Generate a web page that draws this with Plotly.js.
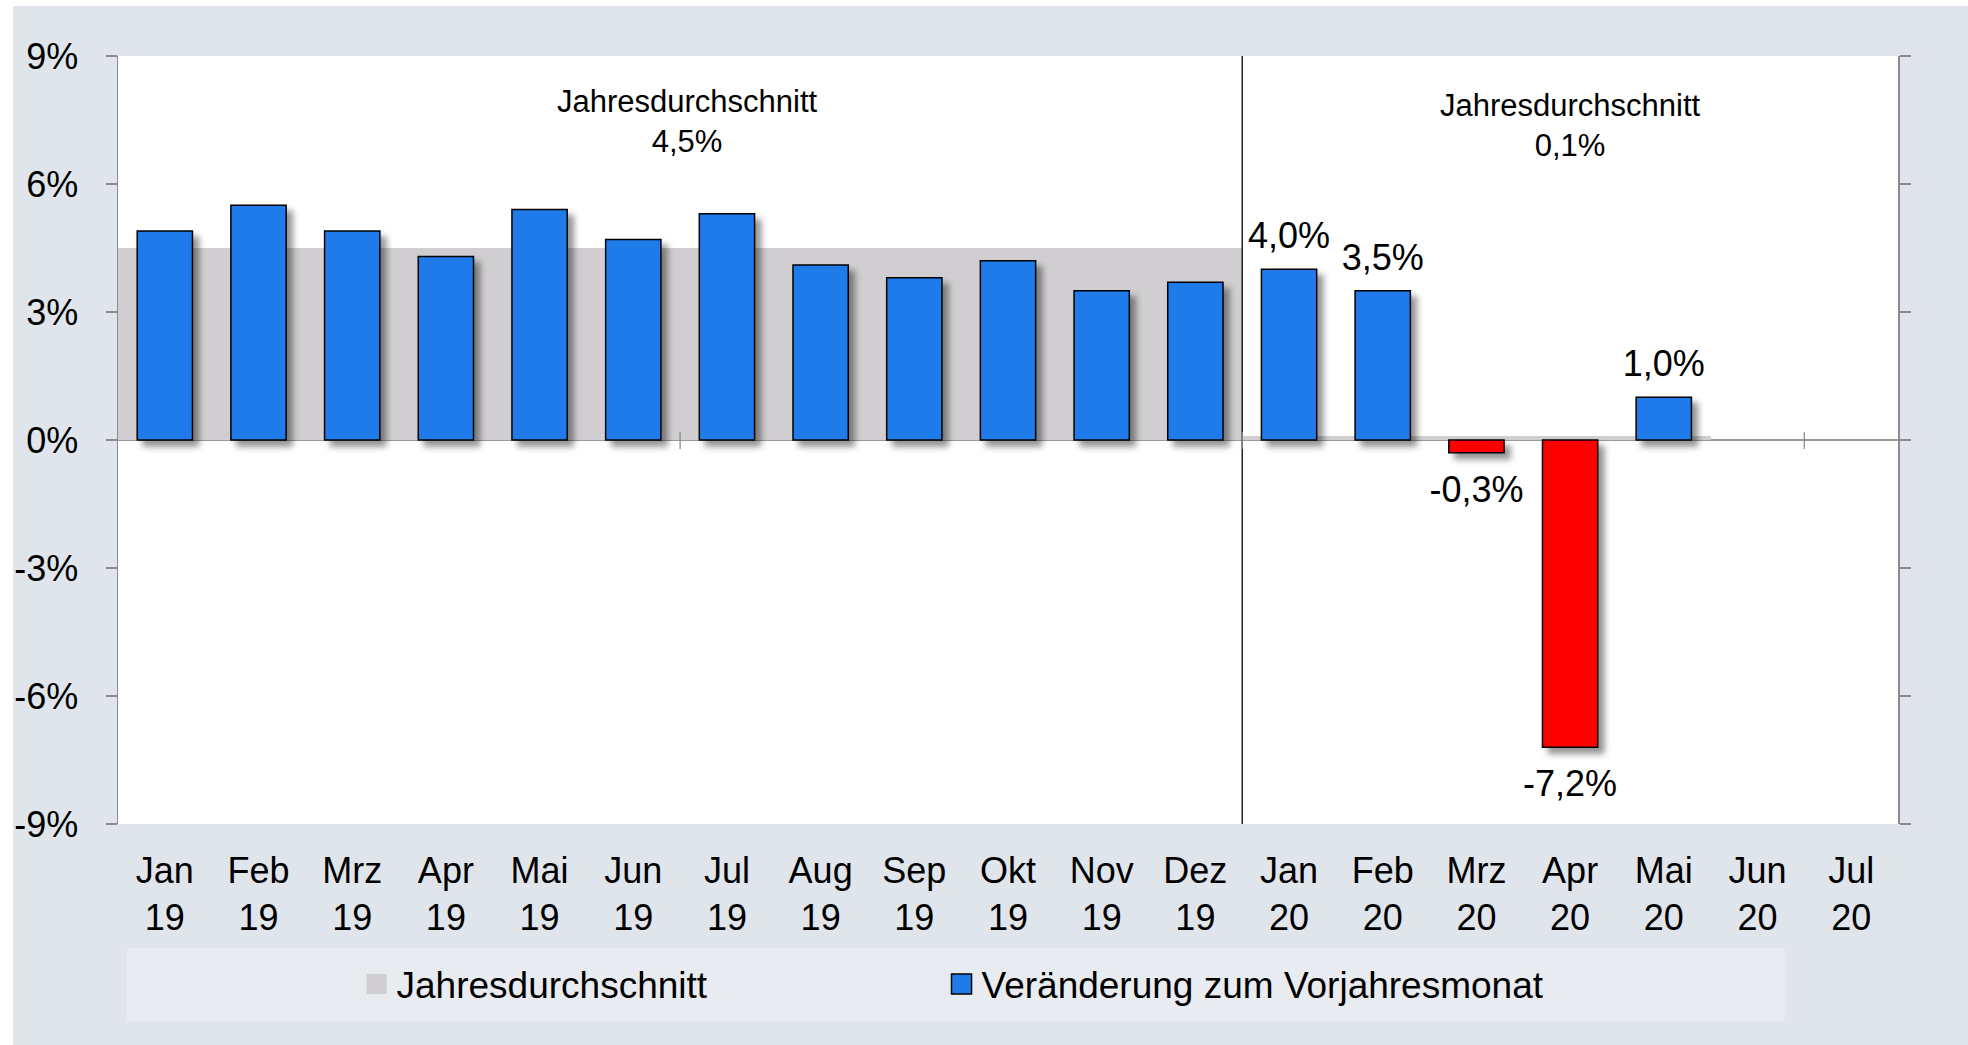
<!DOCTYPE html>
<html>
<head>
<meta charset="utf-8">
<script src="https://cdn.plot.ly/plotly-3.0.1.min.js"></script>
<style>
  html, body { margin: 0; padding: 0; background: #ffffff; }
  #chart { width: 1968px; height: 1045px; }
</style>
</head>
<body>
<div id="chart"></div>
<script>
// ---- data ----
const categories = ['Jan<br>19','Feb<br>19','Mrz<br>19','Apr<br>19','Mai<br>19','Jun<br>19','Jul<br>19','Aug<br>19','Sep<br>19','Okt<br>19','Nov<br>19','Dez<br>19','Jan<br>20','Feb<br>20','Mrz<br>20','Apr<br>20','Mai<br>20','Jun<br>20','Jul<br>20'];
const changeValues = [4.9, 5.5, 4.9, 4.3, 5.4, 4.7, 5.3, 4.1, 3.8, 4.2, 3.5, 3.7, 4.0, 3.5, -0.3, -7.2, 1.0, null, null];
const avgValues = [4.5, 4.5, 4.5, 4.5, 4.5, 4.5, 4.5, 4.5, 4.5, 4.5, 4.5, 4.5, 0.1, 0.1, 0.1, 0.1, 0.1, null, null];
const barLabels = ['', '', '', '', '', '', '', '', '', '', '', '', '4,0%', '3,5%', '-0,3%', '-7,2%', '1,0%', '', ''];
const yearAvgText = ['Jahresdurchschnitt<br>4,5%', 'Jahresdurchschnitt<br>0,1%'];
const yTickVals = [-9, -6, -3, 0, 3, 6, 9];
const yTickText = ['-9%', '-6%', '-3%', '0%', '3%', '6%', '9%'];
const seriesNames = ['Jahresdurchschnitt', 'Veränderung zum Vorjahresmonat'];

// ---- styles ----
const FONT = 'Liberation Sans, Arial, sans-serif';
const BG = '#E0E5EC';
const LEGEND_BG = '#E8EBF0';
const BLUE = '#1F7BE9';
const RED = '#FF0000';
const GREY_AVG = '#D0CED0';
const AXIS_GREY = '#8C8C8C';

const barColors = changeValues.map(v => (v !== null && v < 0) ? RED : BLUE);

const traces = [
  {
    type: 'bar',
    name: seriesNames[0],
    x: categories,
    y: avgValues,
    width: 1,
    legendwidth: 540,
    marker: { color: GREY_AVG, line: { width: 0 } },
    hoverinfo: 'skip'
  },
  {
    type: 'bar',
    name: seriesNames[1],
    x: categories,
    y: changeValues,
    width: 0.59,
    legendwidth: 600,
    text: barLabels,
    textposition: 'outside',
    constraintext: 'none',
    cliponaxis: false,
    textfont: { family: FONT, size: 36, color: '#000000' },
    marker: { color: barColors, line: { color: '#000000', width: 1.5 } }
  }
];

// category boundary positions (between months), derived from the category list
const n = categories.length;
const yearSplit = categories.findIndex(c => c.endsWith('20')) - 0.5;
const shapes = [];

// white strips at the top and left of the image
shapes.push({ type: 'rect', xref: 'paper', yref: 'paper', x0: -0.1, x1: -0.0590, y0: -0.4, y1: 1.2, fillcolor: '#ffffff', line: { width: 0 }, layer: 'below' });
shapes.push({ type: 'rect', xref: 'paper', yref: 'paper', x0: -0.1, x1: 1.1, y0: 1.0651, y1: 1.2, fillcolor: '#ffffff', line: { width: 0 }, layer: 'below' });
// legend panel
shapes.push({ type: 'rect', xref: 'paper', yref: 'paper', x0: 0.00506, x1: 0.9365, y0: -0.2565, y1: -0.1615, fillcolor: LEGEND_BG, line: { width: 0 }, layer: 'below' });
// year separator
shapes.push({ type: 'line', xref: 'x', yref: 'paper', x0: yearSplit, x1: yearSplit, y0: 0, y1: 1, line: { color: '#000000', width: 1.3 }, layer: 'above' });
// small tick marks crossing the zero line every 6 months
for (let k = 6; k < n; k += 6) {
  shapes.push({ type: 'line', xref: 'x', yref: 'y', x0: k - 0.5, x1: k - 0.5, y0: -0.21, y1: 0.19, line: { color: AXIS_GREY, width: 1.3 }, layer: 'above' });
}

const annotations = [
  { xref: 'paper', yref: 'paper', x: 0.320, y: 0.915, xanchor: 'center', yanchor: 'middle', text: yearAvgText[0], showarrow: false, font: { family: FONT, size: 31, color: '#000000' } },
  { xref: 'paper', yref: 'paper', x: 0.816, y: 0.910, xanchor: 'center', yanchor: 'middle', text: yearAvgText[1], showarrow: false, font: { family: FONT, size: 31, color: '#000000' } }
];

const layout = {
  width: 1968,
  height: 1045,
  margin: { l: 118, r: 70, t: 56, b: 221, pad: 0 },
  paper_bgcolor: BG,
  plot_bgcolor: '#ffffff',
  barmode: 'overlay',
  bargap: 0,
  font: { family: FONT, color: '#000000' },
  showlegend: true,
  legend: {
    orientation: 'h',
    x: 0.134, xanchor: 'left',
    y: -0.209, yanchor: 'middle',
    bgcolor: 'rgba(0,0,0,0)',
    font: { family: FONT, size: 37, color: '#000000' },
    traceorder: 'normal'
  },
  xaxis: {
    type: 'category',
    range: [-0.5, n - 0.5],
    showline: false,
    showgrid: false,
    zeroline: false,
    ticks: '',
    tickfont: { family: FONT, size: 36, color: '#000000' },
    ticklabelstandoff: 22,
    fixedrange: true
  },
  yaxis: {
    range: [-9, 9],
    tickvals: yTickVals,
    ticktext: yTickText,
    showline: true,
    linecolor: AXIS_GREY,
    linewidth: 1.5,
    mirror: 'ticks',
    ticks: 'outside',
    ticklen: 11,
    tickwidth: 1.5,
    tickcolor: AXIS_GREY,
    showgrid: false,
    zeroline: true,
    zerolinecolor: '#9A9A9A',
    zerolinewidth: 1.6,
    tickfont: { family: FONT, size: 36, color: '#000000' },
    ticklabelstandoff: 20,
    fixedrange: true
  },
  shapes: shapes,
  annotations: annotations
};

Plotly.newPlot('chart', traces, layout, { displayModeBar: false, staticPlot: true }).then(function (gd) {
  const barTraces = gd.querySelectorAll('.barlayer .trace');
  if (barTraces.length > 1) {
    barTraces[1].querySelectorAll('.point').forEach(function (pt, i) {
      // soft drop shadow behind the monthly bars
      const p = pt.querySelector('path');
      if (p) p.style.filter = 'drop-shadow(6px 6px 3px rgba(0,0,0,0.42))';
      // a little more room between value labels and bar ends
      const t = pt.querySelector('text');
      const v = changeValues[i];
      if (t && v !== null && v !== undefined) {
        const dy = v < 0 ? 13 : -10;
        t.setAttribute('transform', 'translate(0,' + dy + ') ' + (t.getAttribute('transform') || ''));
      }
    });
  }
  // larger legend swatches (keep Plotly's own placement transform)
  gd.querySelectorAll('.legend .legendpoints path').forEach(function (p) {
    const tr = p.getAttribute('transform') || '';
    p.setAttribute('transform', tr + ' scale(1.67)');
    p.style.vectorEffect = 'non-scaling-stroke';
  });
});
</script>
</body>
</html>
